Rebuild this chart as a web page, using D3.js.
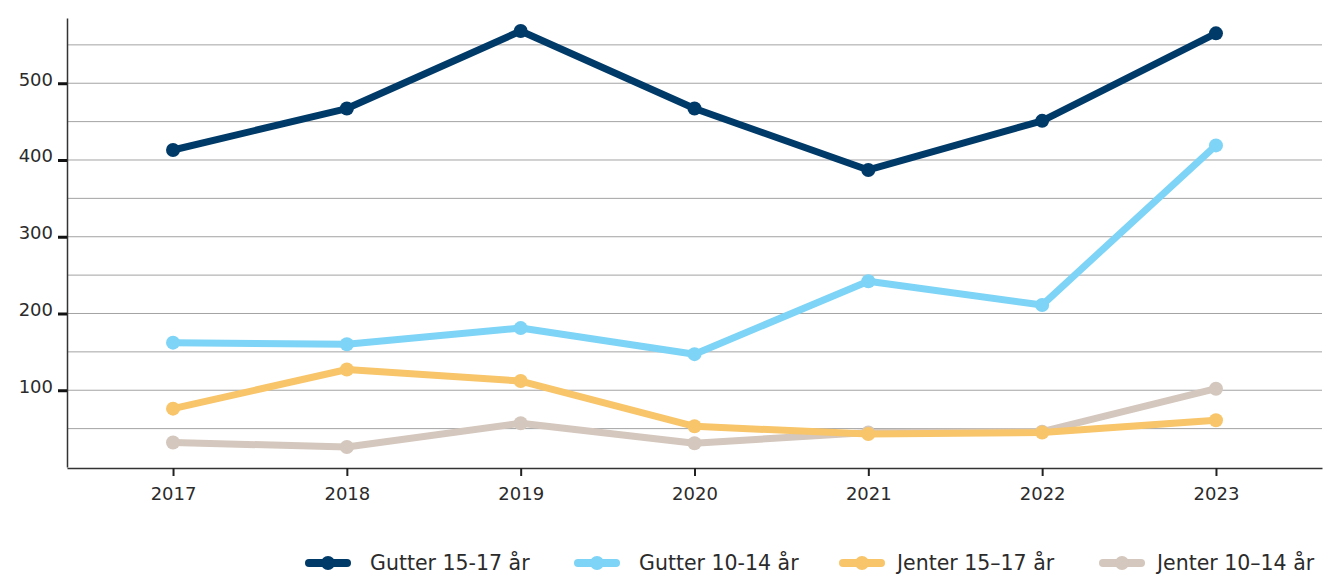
<!DOCTYPE html>
<html>
<head>
<meta charset="utf-8">
<script src="https://cdn.jsdelivr.net/npm/d3@7"></script>
<style>
  body { margin: 0; background: #fff; }
  svg text { font-family: "DejaVu Sans", sans-serif; fill: #2b2b2b; }
  .grid line { stroke: #a3a3a3; stroke-width: 1; }
  .axis path { stroke: #333; }
</style>
</head>
<body>
<div id="chart"></div>
<script>
// data
var years = ["2017", "2018", "2019", "2020", "2021", "2022", "2023"];
var gutter1517 = [413, 467, 568, 467, 387, 451, 565];
var gutter1014 = [162, 160, 181, 147, 242, 211, 419];
var jenter1517 = [76, 127, 112, 53, 43, 45, 61];
var jenter1014 = [32, 26, 57, 31, 45, 46, 102];
var seriesNames = ["Gutter 15-17 år", "Gutter 10-14 år", "Jenter 15–17 år", "Jenter 10–14 år"];
var seriesColors = ["#003a68", "#7dd4f6", "#f8c56a", "#d4c7bd"];
var yTicks = [100, 200, 300, 400, 500];
var gridTicks = [50, 100, 150, 200, 250, 300, 350, 400, 450, 500, 550];

var width = 1326, height = 575;
var plotLeft = 67, plotRight = 1322, plotTop = 18, plotBottom = 467;

var svg = d3.select("#chart")
    .append("svg")
    .attr("width", width)
    .attr("height", height);

var x = d3.scalePoint().domain(years).range([plotLeft, plotRight]).padding(0.61);
var y = d3.scaleLinear().domain([0, 585]).range([plotBottom, plotTop]);

// gridlines
svg.append("g")
    .attr("class", "grid")
    .selectAll("line")
    .data(gridTicks)
    .enter().append("line")
    .attr("x1", plotLeft)
    .attr("x2", plotRight)
    .attr("y1", function(d) { return y(d); })
    .attr("y2", function(d) { return y(d); });

// y axis
var yAxis = svg.append("g")
    .attr("class", "axis")
    .attr("transform", "translate(" + plotLeft + ",0)")
    .call(d3.axisLeft(y).tickValues(yTicks).tickSize(9).tickPadding(6).tickSizeOuter(0));
yAxis.select(".domain").attr("stroke-width", 1.5);
yAxis.selectAll(".tick line")
    .attr("x1", 0).attr("x2", -9)
    .style("stroke", "#111")
    .style("stroke-width", "3px");
yAxis.selectAll(".tick text").attr("x", -14).attr("dy", "0.1em").style("font-size", "18px").style("fill", "#2b2b2b");

// x axis
var xAxis = svg.append("g")
    .attr("class", "axis")
    .attr("transform", "translate(0," + (plotBottom + 1) + ")")
    .call(d3.axisBottom(x).tickSize(8).tickPadding(11).tickSizeOuter(0));
xAxis.select(".domain").attr("stroke-width", 1.5);
xAxis.selectAll(".tick line").style("stroke", "#222").style("stroke-width", "2px");
xAxis.selectAll(".tick text").style("font-size", "18px").style("fill", "#2b2b2b");

// lines
var allSeries = [gutter1517, gutter1014, jenter1517, jenter1014];
var line = d3.line()
    .x(function(d, i) { return x(years[i]); })
    .y(function(d) { return y(d); });

// draw back to front so dark series is on top
[3, 2, 1, 0].forEach(function(k) {
    var g = svg.append("g");
    g.append("path")
        .attr("d", line(allSeries[k]))
        .attr("fill", "none")
        .attr("stroke", seriesColors[k])
        .attr("stroke-width", 7)
        .attr("stroke-linejoin", "round");
    g.selectAll("circle")
        .data(allSeries[k])
        .enter().append("circle")
        .attr("cx", function(d, i) { return x(years[i]); })
        .attr("cy", function(d) { return y(d); })
        .attr("r", 7)
        .attr("fill", seriesColors[k]);
});

// legend
var legendX = [306, 575, 840, 1100];
var legend = svg.append("g").attr("transform", "translate(0,563)");
seriesNames.forEach(function(name, k) {
    var lg = legend.append("g").attr("transform", "translate(" + legendX[k] + ",0)");
    lg.append("line")
        .attr("x1", 3).attr("x2", 41)
        .attr("stroke", seriesColors[k])
        .attr("stroke-width", 8)
        .attr("stroke-linecap", "round");
    lg.append("circle")
        .attr("cx", 22).attr("r", 7)
        .attr("fill", seriesColors[k]);
    lg.append("text")
        .attr("x", k < 2 ? 64 : 57)
        .attr("dy", "0.35em")
        .style("font-size", "20.5px")
        .text(name);
});
</script>
</body>
</html>
